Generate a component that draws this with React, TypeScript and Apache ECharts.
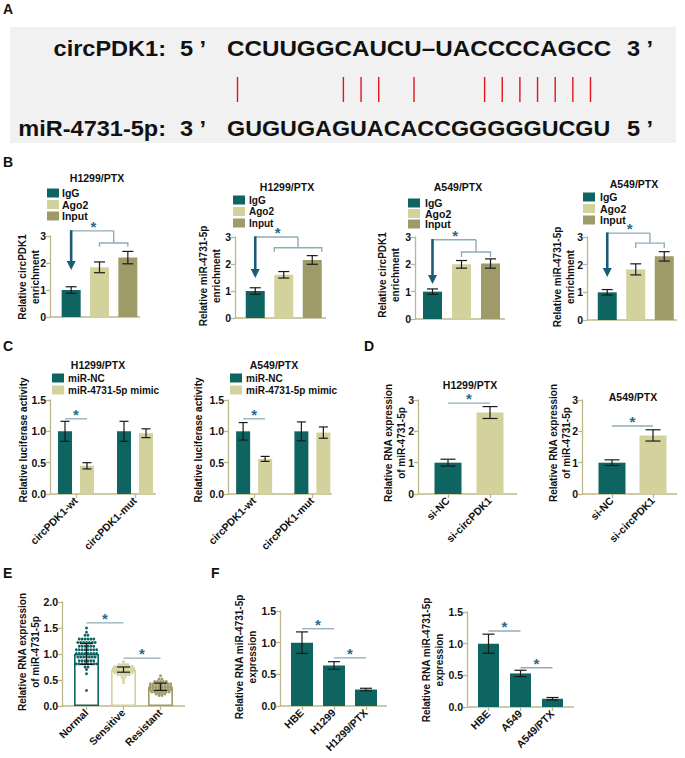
import React, { useEffect, useRef } from "react";
import * as echarts from "echarts";

const FONT = "'Liberation Sans', Arial, Helvetica, sans-serif";
const TEAL = "#0e6461";
const KHAKI = "#d3d29d";
const OLIVE = "#9e9b69";
const AXIS = "#bcb88a";
const ERR = "#1a1a1a";
const SIG = "#8fadb9";
const STAR = "#2b6a88";
const ARROW = "#1a5c76";
const RED = "#e3131b";

// ---------- Panel A ----------
const SEQ_CIRC = "CCUUGGCAUCU–UACCCCAGCC";
const SEQ_MIR = "GUGUGAGUACACCGGGGGUCGU";

// ---------- Panel B ----------
const B_GROUPS = ["IgG", "Ago2", "Input"];
const B1_MEAN = [1.0, 1.84, 2.2];
const B1_ERR = [0.12, 0.2, 0.23];
const B2_MEAN = [1.0, 1.6, 2.15];
const B2_ERR = [0.12, 0.12, 0.16];
const B3_MEAN = [1.0, 2.0, 2.03];
const B3_ERR = [0.1, 0.14, 0.17];
const B4_MEAN = [1.0, 1.83, 2.3];
const B4_ERR = [0.1, 0.2, 0.17];
const B1_SIG = { top: 3.19, sub: 2.74, tick: 2.6, tip: 1.74 };
const B2_SIG = { top: 3.0, sub: 2.6, tick: 2.45, tip: 1.48 };
const B3_SIG = { top: 2.9, sub: 2.45, tick: 2.27, tip: 1.28 };
const B4_SIG = { top: 3.14, sub: 2.78, tick: 2.6, tip: 1.55 };

// ---------- Panel C ----------
const C_SITES = ["circPDK1-wt", "circPDK1-mut"];
const C_SERIES = ["miR-NC", "miR-4731-5p mimic"];
const C1_NC = [1.0, 1.0];
const C1_NC_ERR = [0.16, 0.16];
const C1_MIMIC = [0.45, 0.97];
const C1_MIMIC_ERR = [0.05, 0.07];
const C2_NC = [1.0, 1.0];
const C2_NC_ERR = [0.14, 0.15];
const C2_MIMIC = [0.56, 0.98];
const C2_MIMIC_ERR = [0.04, 0.09];
const C1_SIG_Y = 1.2;
const C2_SIG_Y = 1.2;

// ---------- Panel D ----------
const D_GROUPS = ["si-NC", "si-circPDK1"];
const D1_MEAN = [1.0, 2.6];
const D1_ERR = [0.11, 0.19];
const D2_MEAN = [1.0, 1.87];
const D2_ERR = [0.09, 0.18];
const D1_SIG_Y = 2.9;
const D2_SIG_Y = 2.17;

// ---------- Panel E ----------
const E_GROUPS = ["Normal", "Sensitive", "Resistant"];
const E_MEAN = [1.0, 0.7, 0.37];
const E_ERR = [0.2, 0.05, 0.07];
const E_NORMAL = [
  1.5, 1.42, 1.36, 1.36,
  1.29, 1.29, 1.29, 1.29, 1.29, 1.29,
  1.22, 1.22, 1.22, 1.22, 1.22, 1.22, 1.22,
  1.15, 1.15, 1.15, 1.15, 1.15, 1.15,
  1.08, 1.08, 1.08, 1.08, 1.08, 1.08, 1.08, 1.08,
  1.01, 1.01, 1.01, 1.01, 1.01, 1.01, 1.01, 1.01,
  0.94, 0.94, 0.94, 0.94, 0.94, 0.94, 0.94,
  0.87, 0.87, 0.87, 0.87, 0.87, 0.87,
  0.81, 0.81, 0.81, 0.81, 0.81, 0.81, 0.81, 0.81,
  0.75, 0.75, 0.7, 0.62, 0.3,
];
const E_SENSITIVE = [
  0.85,
  0.8, 0.8, 0.8, 0.8,
  0.76, 0.76, 0.76, 0.76, 0.76, 0.76, 0.76,
  0.72, 0.72, 0.72, 0.72, 0.72, 0.72, 0.72, 0.72,
  0.68, 0.68, 0.68, 0.68, 0.68, 0.68, 0.68, 0.68,
  0.64, 0.64, 0.64, 0.64, 0.64, 0.64, 0.64,
  0.6, 0.6, 0.6, 0.6, 0.6,
  0.55, 0.55, 0.5, 0.45,
];
const E_RESISTANT = [
  0.58,
  0.52, 0.52,
  0.47, 0.47, 0.47, 0.47, 0.47,
  0.43, 0.43, 0.43, 0.43, 0.43, 0.43, 0.43, 0.43,
  0.39, 0.39, 0.39, 0.39, 0.39, 0.39, 0.39, 0.39,
  0.35, 0.35, 0.35, 0.35, 0.35, 0.35, 0.35, 0.35,
  0.31, 0.31, 0.31, 0.31, 0.31, 0.31, 0.31, 0.31,
  0.27, 0.27, 0.27, 0.27, 0.27, 0.27, 0.27,
  0.23, 0.23, 0.23, 0.23,
  0.2, 0.2,
];
const E_SIG = [
  { a: 0, b: 1, y: 1.6 },
  { a: 1, b: 2, y: 0.92 },
];

// ---------- Panel F ----------
const F1_GROUPS = ["HBE", "H1299", "H1299/PTX"];
const F1_MEAN = [1.0, 0.64, 0.26];
const F1_ERR = [0.17, 0.06, 0.02];
const F2_GROUPS = ["HBE", "A549", "A549/PTX"];
const F2_MEAN = [1.0, 0.53, 0.13];
const F2_ERR = [0.15, 0.05, 0.02];
const F1_SIG = [
  { a: 0, b: 1, y: 1.22 },
  { a: 1, b: 2, y: 0.76 },
];
const F2_SIG = [
  { a: 0, b: 1, y: 1.2 },
  { a: 1, b: 2, y: 0.62 },
];

// ---------- layout (pixels) ----------
type Lay = { axisX: number; left: number; width: number; top: number; bottom: number; xEnd: number };
const LAY: Record<string, Lay> = {
  B1: { axisX: 50, left: 57, width: 85, top: 236, bottom: 317, xEnd: 140 },
  B2: { axisX: 235, left: 241, width: 85.5, top: 237, bottom: 318, xEnd: 326 },
  B3: { axisX: 415, left: 418, width: 87, top: 237, bottom: 319, xEnd: 505 },
  B4: { axisX: 587, left: 593, width: 85.5, top: 237, bottom: 320, xEnd: 677 },
  C1: { axisX: 50, left: 46.5, width: 118, top: 400, bottom: 494, xEnd: 156 },
  C2: { axisX: 228, left: 225, width: 116.5, top: 400, bottom: 494, xEnd: 332 },
  D1: { axisX: 418, left: 427, width: 84, top: 400, bottom: 494, xEnd: 517 },
  D2: { axisX: 582, left: 591.5, width: 82, top: 400, bottom: 494, xEnd: 677 },
  E: { axisX: 62, left: 68, width: 111, top: 602, bottom: 706, xEnd: 185 },
  F1: { axisX: 280, left: 286, width: 96, top: 611, bottom: 706, xEnd: 387 },
  F2: { axisX: 467, left: 472.5, width: 96, top: 612, bottom: 707, xEnd: 574 },
};

function text(x: number, y: number, s: string, size: number, align = "center", extra: any = {}) {
  return {
    type: "text",
    x,
    y,
    silent: true,
    ...extra,
    style: {
      text: s,
      fill: "#111",
      font: `bold ${size}px ${FONT}`,
      textAlign: align,
      align,
      textVerticalAlign: "middle",
      verticalAlign: "middle",
      ...(extra.style || {}),
    },
  };
}

function starEl(x: number, y: number) {
  return {
    type: "text",
    x,
    y: y + 3.5,
    style: {
      text: "*",
      fill: STAR,
      font: `bold 15px ${FONT}`,
      textAlign: "center",
      align: "center",
      textVerticalAlign: "middle",
      verticalAlign: "middle",
    },
  };
}

function buildOption() {
  const grids: any[] = [];
  const xAxes: any[] = [];
  const yAxes: any[] = [];
  const series: any[] = [];
  const graphics: any[] = [];

  function addPanel(L: Lay, cats: string[], yMax: number, yInt: number, dec: number, showX: boolean) {
    const gi = grids.length;
    grids.push({ left: L.left, top: L.top, width: L.width, height: L.bottom - L.top });
    xAxes.push({
      type: "category",
      gridIndex: gi,
      data: cats,
      axisLine: { show: false },
      axisTick: { show: showX, alignWithLabel: true, length: 4, lineStyle: { color: AXIS, width: 1.3 } },
      axisLabel: {
        show: showX,
        rotate: 45,
        interval: 0,
        margin: 5,
        color: "#111",
        fontWeight: "bold",
        fontSize: 10.5,
        fontFamily: FONT,
      },
      splitLine: { show: false },
    });
    yAxes.push({
      type: "value",
      gridIndex: gi,
      min: 0,
      max: yMax,
      interval: yInt,
      offset: L.left - L.axisX,
      axisLine: { show: true, lineStyle: { color: AXIS, width: 1.3 } },
      axisTick: { show: true, length: 4, lineStyle: { color: AXIS, width: 1.3 } },
      axisLabel: {
        color: "#111",
        fontWeight: "bold",
        fontSize: 10.5,
        fontFamily: FONT,
        margin: 4,
        formatter: (v: number) => v.toFixed(dec),
      },
      splitLine: { show: false },
    });
    graphics.push({
      type: "line",
      silent: true,
      shape: { x1: L.axisX, y1: L.bottom, x2: L.xEnd, y2: L.bottom },
      style: { stroke: AXIS, lineWidth: 1.3 },
    });
    return gi;
  }

  function barSeries(gi: number, vals: number[], colors: string[], barWidth: number, extra: any = {}) {
    return {
      type: "bar",
      xAxisIndex: gi,
      yAxisIndex: gi,
      barWidth,
      z: 2,
      silent: true,
      data: vals.map((v, i) => ({ value: v, itemStyle: { color: colors[i % colors.length] } })),
      ...extra,
    };
  }

  function errSeries(gi: number, means: number[], errs: number[], capHalf: number, offPx = 0) {
    return {
      type: "custom",
      xAxisIndex: gi,
      yAxisIndex: gi,
      z: 6,
      silent: true,
      data: means.map((m, i) => [i, m, errs[i]]),
      encode: { x: 0, y: 1 },
      renderItem: (_p: any, api: any) => {
        const i = api.value(0);
        const m = api.value(1);
        const e = api.value(2);
        const t = api.coord([i, m + e]);
        const b = api.coord([i, Math.max(0, m - e)]);
        const x = t[0] + offPx;
        const st = { stroke: ERR, lineWidth: 1.2 };
        return {
          type: "group",
          children: [
            { type: "line", shape: { x1: x, y1: t[1], x2: x, y2: b[1] }, style: st },
            { type: "line", shape: { x1: x - capHalf, y1: t[1], x2: x + capHalf, y2: t[1] }, style: st },
            { type: "line", shape: { x1: x - capHalf, y1: b[1], x2: x + capHalf, y2: b[1] }, style: st },
          ],
        };
      },
    };
  }

  function sigSeries(gi: number, defs: { a: number; b: number; y: number; ao?: number; bo?: number }[]) {
    return {
      type: "custom",
      xAxisIndex: gi,
      yAxisIndex: gi,
      z: 7,
      silent: true,
      data: defs.map((d) => [d.a, d.b, d.y]),
      encode: { x: [0, 1], y: 2 },
      renderItem: (p: any, api: any) => {
        const d = defs[p.dataIndex];
        const pa = api.coord([api.value(0), api.value(2)]);
        const pb = api.coord([api.value(1), api.value(2)]);
        const x1 = pa[0] + (d.ao || 0);
        const x2 = pb[0] + (d.bo || 0);
        const y = pa[1];
        return {
          type: "group",
          children: [
            { type: "line", shape: { x1, y1: y, x2, y2: y }, style: { stroke: SIG, lineWidth: 1.3 } },
            starEl((x1 + x2) / 2, y - 8),
          ],
        };
      },
    };
  }

  function arrowSeries(gi: number, d: { top: number; sub: number; tick: number; tip: number }, spread = 0) {
    return {
      type: "custom",
      xAxisIndex: gi,
      yAxisIndex: gi,
      z: 7,
      silent: true,
      data: [[0, d.top, d.sub, d.tick, d.tip]],
      encode: { x: 0, y: 1 },
      renderItem: (_p: any, api: any) => {
        const a = api.coord([0, api.value(1)]);
        const s1 = api.coord([1, api.value(2)]);
        const s2 = api.coord([2, api.value(2)]);
        const tickY = api.coord([1, api.value(3)])[1];
        const tip = api.coord([0, api.value(4)])[1];
        const jx = (s1[0] + s2[0]) / 2;
        const L = { stroke: SIG, lineWidth: 1.4, fill: "none" };
        const xl = s1[0] - spread;
        const xr = s2[0] + spread;
        return {
          type: "group",
          children: [
            { type: "line", shape: { x1: a[0], y1: a[1], x2: jx, y2: a[1] }, style: L },
            { type: "line", shape: { x1: jx, y1: a[1], x2: jx, y2: s1[1] }, style: L },
            {
              type: "polyline",
              shape: { points: [[xl, tickY], [xl, s1[1]], [xr, s1[1]], [xr, tickY]] },
              style: L,
            },
            { type: "line", shape: { x1: a[0], y1: a[1] - 0.7, x2: a[0], y2: tip - 7 }, style: { stroke: ARROW, lineWidth: 2.6 } },
            {
              type: "polygon",
              shape: { points: [[a[0] - 4.5, tip - 9], [a[0] + 4.5, tip - 9], [a[0], tip]] },
              style: { fill: ARROW },
            },
            starEl((a[0] + jx) / 2 + 1, a[1] - 8),
          ],
        };
      },
    };
  }

  function dotSeries(gi: number, groups: number[][], colors: string[]) {
    const data: number[][] = [];
    groups.forEach((vals, g) => {
      const rows = new Map<number, number>();
      vals.forEach((v) => rows.set(v, (rows.get(v) || 0) + 1));
      rows.forEach((count, v) => {
        for (let j = 0; j < count; j++) data.push([g, v, (j - (count - 1) / 2) * 2.9]);
      });
    });
    return {
      type: "custom",
      xAxisIndex: gi,
      yAxisIndex: gi,
      z: 4,
      silent: true,
      data,
      encode: { x: 0, y: 1 },
      renderItem: (_p: any, api: any) => {
        const c = api.coord([api.value(0), api.value(1)]);
        return {
          type: "circle",
          shape: { cx: c[0] + api.value(2), cy: c[1], r: 1.45 },
          style: { fill: colors[api.value(0)] },
        };
      },
    };
  }

  // ----- Panel B -----
  const BCOL = [TEAL, KHAKI, OLIVE];
  const bDefs = [
    { L: LAY.B1, mean: B1_MEAN, err: B1_ERR, sig: B1_SIG, spread: 0 },
    { L: LAY.B2, mean: B2_MEAN, err: B2_ERR, sig: B2_SIG, spread: 9.5 },
    { L: LAY.B3, mean: B3_MEAN, err: B3_ERR, sig: B3_SIG, spread: 0 },
    { L: LAY.B4, mean: B4_MEAN, err: B4_ERR, sig: B4_SIG, spread: 0 },
  ];
  bDefs.forEach((b) => {
    const gi = addPanel(b.L, B_GROUPS, 3, 1, 0, false);
    series.push(barSeries(gi, b.mean, BCOL, 19));
    series.push(errSeries(gi, b.mean, b.err, 5.5));
    series.push(arrowSeries(gi, b.sig, b.spread));
  });

  // ----- Panel C -----
  const cDefs = [
    { L: LAY.C1, nc: C1_NC, ncE: C1_NC_ERR, mi: C1_MIMIC, miE: C1_MIMIC_ERR, sy: C1_SIG_Y },
    { L: LAY.C2, nc: C2_NC, ncE: C2_NC_ERR, mi: C2_MIMIC, miE: C2_MIMIC_ERR, sy: C2_SIG_Y },
  ];
  cDefs.forEach((c) => {
    const gi = addPanel(c.L, C_SITES, 1.5, 0.5, 1, true);
    series.push(barSeries(gi, c.nc, [TEAL], 14, { name: C_SERIES[0], barGap: "57%" }));
    series.push(barSeries(gi, c.mi, [KHAKI], 14, { name: C_SERIES[1], barGap: "57%" }));
    series.push(errSeries(gi, c.nc, c.ncE, 4.5, -11));
    series.push(errSeries(gi, c.mi, c.miE, 4.5, 11));
    series.push(sigSeries(gi, [{ a: 0, b: 0, y: c.sy, ao: -11, bo: 11 }]));
  });

  // ----- Panel D -----
  const dDefs = [
    { L: LAY.D1, mean: D1_MEAN, err: D1_ERR, sy: D1_SIG_Y },
    { L: LAY.D2, mean: D2_MEAN, err: D2_ERR, sy: D2_SIG_Y },
  ];
  dDefs.forEach((d) => {
    const gi = addPanel(d.L, D_GROUPS, 3, 1, 0, true);
    series.push(barSeries(gi, d.mean, [TEAL, KHAKI], 27));
    series.push(errSeries(gi, d.mean, d.err, 7.5));
    series.push(sigSeries(gi, [{ a: 0, b: 1, y: d.sy }]));
  });

  // ----- Panel E -----
  {
    const gi = addPanel(LAY.E, E_GROUPS, 2, 0.5, 1, true);
    const ecol = [TEAL, KHAKI, OLIVE];
    series.push({
      type: "bar",
      xAxisIndex: gi,
      yAxisIndex: gi,
      barWidth: 25,
      z: 2,
      silent: true,
      data: E_MEAN.map((v, i) => ({
        value: v,
        itemStyle: { color: "#ffffff", borderColor: ecol[i], borderWidth: 1.6 },
      })),
    });
    series.push(dotSeries(gi, [E_NORMAL, E_SENSITIVE, E_RESISTANT], ecol));
    series.push(errSeries(gi, E_MEAN, E_ERR, 6.5));
    series.push(sigSeries(gi, E_SIG));
  }

  // ----- Panel F -----
  {
    const g1 = addPanel(LAY.F1, F1_GROUPS, 1.5, 0.5, 1, true);
    series.push(barSeries(g1, F1_MEAN, [TEAL], 22));
    series.push(errSeries(g1, F1_MEAN, F1_ERR, 6));
    series.push(sigSeries(g1, F1_SIG));
    const g2 = addPanel(LAY.F2, F2_GROUPS, 1.5, 0.5, 1, true);
    series.push(barSeries(g2, F2_MEAN, [TEAL], 21));
    series.push(errSeries(g2, F2_MEAN, F2_ERR, 6));
    series.push(sigSeries(g2, F2_SIG));
  }

  // ----- Panel A graphics -----
  graphics.push({
    type: "rect",
    silent: true,
    shape: { x: 10, y: 27, width: 666, height: 116 },
    style: { fill: "#f1f1f1" },
    z: -10,
  });
  const seqFont = 22;
  const sx = 1.07;
  graphics.push(text(166, 48, "circPDK1:", seqFont, "right", { scaleX: sx }));
  graphics.push(text(180, 48, "5 ’", seqFont, "left", { scaleX: sx }));
  graphics.push(text(227, 48, SEQ_CIRC, seqFont, "left", { scaleX: 1.1 }));
  graphics.push(text(627, 48, "3 ’", seqFont, "left", { scaleX: sx }));
  graphics.push(text(166, 128, "miR-4731-5p:", seqFont, "right", { scaleX: sx }));
  graphics.push(text(180, 128, "3 ’", seqFont, "left", { scaleX: sx }));
  graphics.push(text(227, 128, SEQ_MIR, seqFont, "left", { scaleX: 1.06 }));
  graphics.push(text(627, 128, "5 ’", seqFont, "left", { scaleX: sx }));
  const PAIR: Record<string, string> = { A: "U", U: "A", G: "C", C: "G" };
  for (let i = 0; i < SEQ_CIRC.length; i++) {
    if (PAIR[SEQ_CIRC[i]] && PAIR[SEQ_CIRC[i]] === SEQ_MIR[i]) {
      const x = 237.5 + i * 17.65;
      graphics.push({
        type: "line",
        silent: true,
        shape: { x1: x, y1: 77, x2: x, y2: 102 },
        style: { stroke: RED, lineWidth: 1.4 },
      });
    }
  }

  // panel letters
  graphics.push(text(3, 9, "A", 14, "left"));
  graphics.push(text(3, 162, "B", 14, "left"));
  graphics.push(text(3, 346, "C", 14, "left"));
  graphics.push(text(364, 346, "D", 14, "left"));
  graphics.push(text(3, 573, "E", 14, "left"));
  graphics.push(text(211, 573, "F", 14, "left"));

  // titles
  graphics.push(text(97, 178, "H1299/PTX", 10.5));
  graphics.push(text(287, 187, "H1299/PTX", 10.5));
  graphics.push(text(458, 187, "A549/PTX", 10.5));
  graphics.push(text(634, 184, "A549/PTX", 10.5));
  graphics.push(text(98, 365, "H1299/PTX", 10.5));
  graphics.push(text(274, 365, "A549/PTX", 10.5));
  graphics.push(text(470, 385, "H1299/PTX", 10.5));
  graphics.push(text(633, 397, "A549/PTX", 10.5));

  // legends
  function legend(x: number, rows: number[], names: string[], colors: string[], tx: number, size: number) {
    names.forEach((n, i) => {
      graphics.push({
        type: "rect",
        silent: true,
        shape: { x, y: rows[i] - 4.5, width: 12, height: 9 },
        style: { fill: colors[i] },
      });
      graphics.push(text(tx, rows[i], n, size, "left"));
    });
  }
  legend(47, [193, 204.5, 216], B_GROUPS, BCOL, 62, 10.5);
  legend(233, [200, 211.5, 223], B_GROUPS, BCOL, 249, 10);
  legend(408, [203, 213.5, 224], B_GROUPS, BCOL, 425, 10.5);
  legend(583, [197, 208.5, 220], B_GROUPS, BCOL, 600, 10.5);
  legend(52, [378, 390], C_SERIES, [TEAL, KHAKI], 68, 10);
  legend(230, [378, 390], C_SERIES, [TEAL, KHAKI], 246, 10);

  // y-axis names
  const yName = (x: number, y: number, s: string) =>
    graphics.push(text(x, y, s, 10, "center", { rotation: Math.PI / 2, style: { lineHeight: 13 } }));
  yName(29, 277, "Relative circPDK1\nenrichment");
  yName(210, 276, "Relative miR-4731-5p\nenrichment");
  yName(388.5, 275, "Relative circPDK1\nenrichment");
  yName(563.5, 277, "Relative miR-4731-5p\nenrichment");
  yName(23, 440, "Relative luciferase activity");
  yName(198, 440, "Relative luciferase activity");
  yName(395, 443, "Relative RNA expression\nof miR-4731-5p");
  yName(560, 443, "Relative RNA expression\nof miR-4731-5p");
  yName(28.5, 652, "Relative RNA expression\nof miR-4731-5p");
  yName(246, 657, "Relative RNA miR-4731-5p\nexpression");
  yName(432.5, 660, "Relative RNA miR-4731-5p\nexpression");

  return {
    animation: false,
    backgroundColor: "#ffffff",
    textStyle: { fontFamily: FONT },
    grid: grids,
    xAxis: xAxes,
    yAxis: yAxes,
    series,
    graphic: { elements: graphics },
  };
}

export default function App() {
  const ref = useRef<HTMLDivElement>(null);
  useEffect(() => {
    document.body.style.margin = "0";
    const chart = echarts.init(ref.current!, null, { renderer: "svg" });
    chart.setOption(buildOption() as any);
    return () => chart.dispose();
  }, []);
  return <div ref={ref} style={{ width: 685, height: 758 }} />;
}
